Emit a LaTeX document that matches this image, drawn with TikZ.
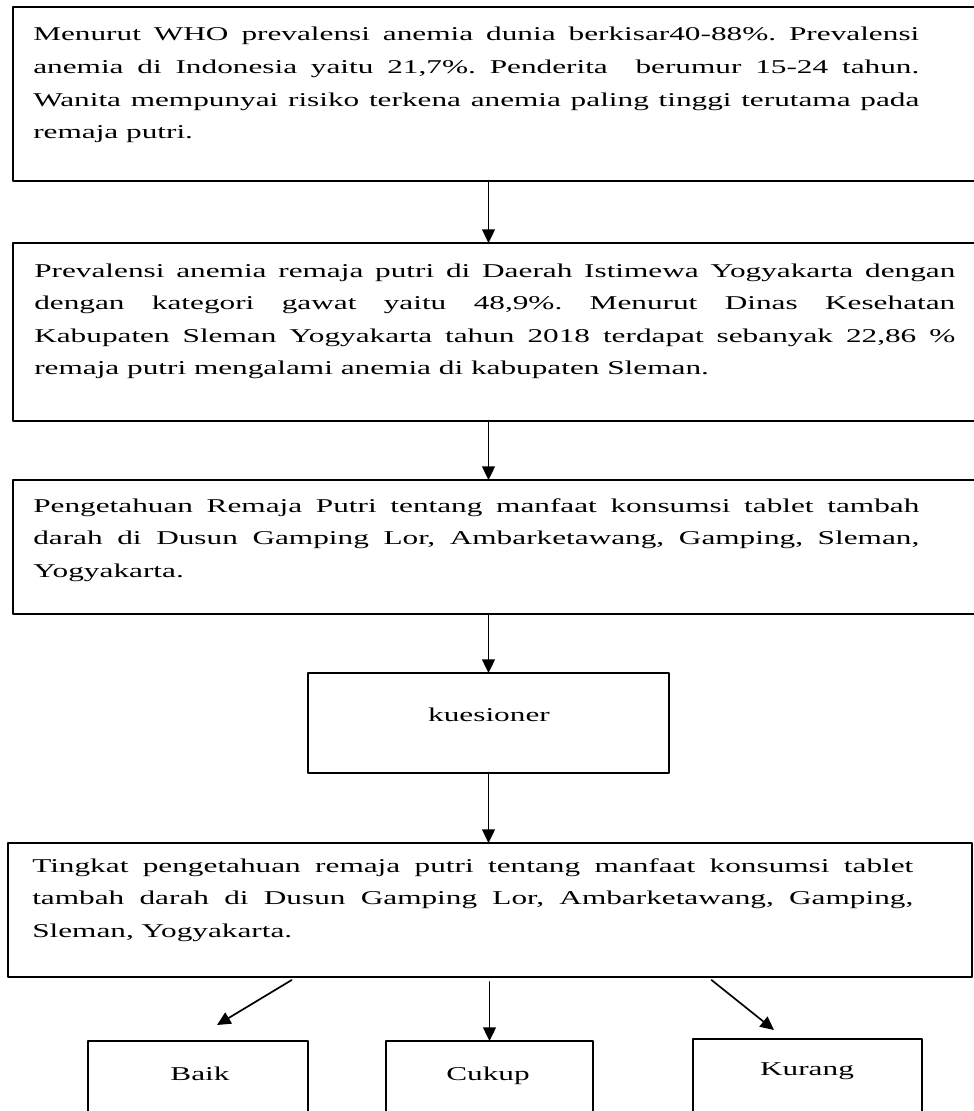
\documentclass[tikz,border=0pt]{standalone}
\usepackage{fontspec}
\setmainfont[FakeStretch=1.6]{Liberation Serif}
\usetikzlibrary{arrows.meta}
\frenchspacing

\begin{document}
\begin{tikzpicture}[line cap=round,line join=round,>={Triangle[length=0.34cm,width=0.32cm]},x=1.0cm,y=1.0cm,
	kotak/.style={draw,line width=1.6pt,inner sep=0pt,outer sep=0pt,anchor=north west},
	isi/.style={inner sep=0pt,anchor=base west,align=justify,font=\fontsize{13.9pt}{23.19pt}\selectfont},
	judul/.style={inner sep=0pt,anchor=base,font=\fontsize{13.9pt}{23.19pt}\selectfont},
	panah/.style={->,line width=1.2pt}]
				\useasboundingbox (0.,0.) rectangle (24.325,-27.775);
				\node[kotak,minimum width=24.05cm,minimum height=4.35cm] (who) at (0.325,-0.175) {};
				\node[isi,text width=22.15cm] (whotxt) at (0.825,-1.025) {Menurut WHO prevalensi anemia dunia berkisar40-88\%. Prevalensi\linebreak anemia di Indonesia yaitu 21,7\%. Penderita\ \ berumur 15-24 tahun.\linebreak Wanita mempunyai risiko terkena anemia paling tinggi terutama pada\linebreak remaja putri.};
				\node[kotak,minimum width=24.05cm,minimum height=4.45cm] (diy) at (0.325,-6.075) {};
				\node[isi,text width=23.025cm] (diytxt) at (0.85,-6.925) {Prevalensi anemia remaja putri di Daerah Istimewa Yogyakarta dengan\linebreak dengan kategori gawat yaitu 48,9\%. Menurut Dinas Kesehatan\linebreak Kabupaten Sleman Yogyakarta tahun 2018 terdapat sebanyak 22,86 \%\linebreak remaja putri mengalami anemia di kabupaten Sleman.};
				\node[kotak,minimum width=24.05cm,minimum height=3.35cm] (tahu) at (0.325,-12.) {};
				\node[isi,text width=22.15cm] (tahutxt) at (0.825,-12.8) {Pengetahuan Remaja Putri tentang manfaat konsumsi tablet tambah\linebreak darah di Dusun Gamping Lor, Ambarketawang, Gamping, Sleman,\linebreak Yogyakarta.};
				\node[kotak,line width=1.4pt,minimum width=9.025cm,minimum height=2.5cm] (kues) at (7.7,-16.825) {};
				\node[judul] (kuestxt) at (12.225,-18.04) {kuesioner};
				\node[kotak,minimum width=24.1cm,minimum height=3.35cm] (tingkat) at (0.2,-21.075) {};
				\node[isi,text width=22.025cm] (tingkattxt) at (0.8,-21.8) {Tingkat pengetahuan remaja putri tentang manfaat konsumsi tablet\linebreak tambah darah di Dusun Gamping Lor, Ambarketawang, Gamping,\linebreak Sleman, Yogyakarta.};
				\node[kotak,line width=1.4pt,minimum width=5.5cm,minimum height=2.1cm] (baik) at (2.2,-26.025) {};
				\node[judul] (baiktxt) at (5.,-27.) {Baik};
				\node[kotak,line width=1.4pt,minimum width=5.175cm,minimum height=2.1cm] (cukup) at (9.65,-26.025) {};
				\node[judul] (cukuptxt) at (12.2,-27.) {Cukup};
				\node[kotak,line width=1.4pt,minimum width=5.725cm,minimum height=2.15cm] (kurang) at (17.325,-25.975) {};
				\node[judul] (kurangtxt) at (20.175,-26.875) {Kurang};
				\draw[panah] (who.south -| kues.north) -- (diy.north -| kues.north);
				\draw[panah] (diy.south -| kues.north) -- (tahu.north -| kues.north);
				\draw[panah] (tahu.south -| kues.north) -- (kues.north);
				\draw[panah] (kues.south) -- (tingkat.north -| kues.south);
				\draw[panah] ([xshift=-4.9575cm,yshift=-0.075cm]tingkat.south) -- ([xshift=0.475cm,yshift=0.4cm]baik.north);
				\draw[panah,shorten <=0.125cm] (tingkat.south -| cukup.north) -- (cukup.north);
				\draw[panah] ([xshift=5.5375cm,yshift=-0.075cm]tingkat.south) -- ([xshift=-0.8375cm,yshift=0.225cm]kurang.north);
\end{tikzpicture}
\end{document}
